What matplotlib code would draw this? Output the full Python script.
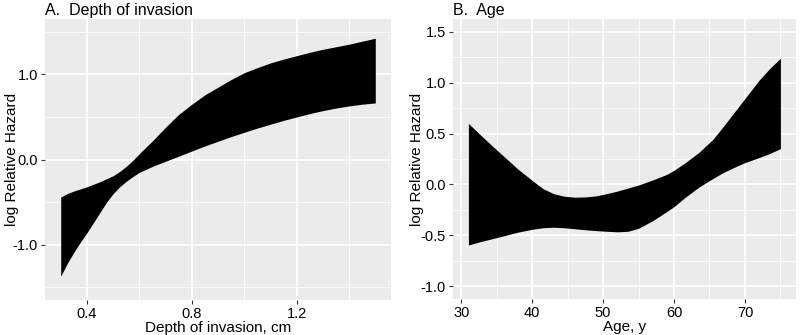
import numpy as np
import matplotlib.pyplot as plt
from matplotlib.ticker import MultipleLocator

plt.rcParams['font.family'] = ['Liberation Sans', 'DejaVu Sans']

# Panel A: depth of invasion (cm), confidence band of log relative hazard
depth = [0.3, 0.325, 0.35, 0.375, 0.4, 0.425, 0.45, 0.475, 0.5, 0.525, 0.55, 0.575,
         0.6, 0.65, 0.7, 0.75, 0.8, 0.85, 0.9, 0.95, 1.0, 1.05, 1.1, 1.15, 1.2, 1.25,
         1.3, 1.35, 1.4, 1.45, 1.5]
depth_upper = [-0.44, -0.40, -0.37, -0.345, -0.32, -0.29, -0.26, -0.225, -0.19, -0.14,
               -0.08, -0.01, 0.07, 0.22, 0.38, 0.53, 0.65, 0.76, 0.85, 0.94, 1.02, 1.08,
               1.135, 1.18, 1.22, 1.26, 1.295, 1.325, 1.355, 1.39, 1.425]
depth_lower = [-1.37, -1.22, -1.09, -0.97, -0.86, -0.74, -0.62, -0.5, -0.40, -0.32,
               -0.255, -0.2, -0.15, -0.08, -0.02, 0.04, 0.1, 0.16, 0.215, 0.27, 0.32,
               0.37, 0.415, 0.46, 0.5, 0.54, 0.575, 0.605, 0.63, 0.65, 0.665]

# Panel B: age (years)
age = [31, 32.5, 34.5, 36.5, 38, 40, 41.5, 43, 44.5, 46, 47.5, 49, 50.5, 52, 53.5, 55,
       57, 59, 60, 61.5, 63.5, 65.5, 67, 69, 70, 72, 73.5, 75]
age_upper = [0.6, 0.5, 0.37, 0.245, 0.15, 0.04, -0.04, -0.09, -0.115, -0.125,
             -0.122, -0.112, -0.09, -0.065, -0.035, -0.005, 0.045, 0.1, 0.14, 0.21, 0.315,
             0.445, 0.575, 0.755, 0.845, 1.025, 1.14, 1.24]
age_lower = [-0.595, -0.565, -0.53, -0.495, -0.468, -0.44, -0.425, -0.42, -0.425,
             -0.435, -0.445, -0.453, -0.46, -0.465, -0.46, -0.43, -0.355, -0.265,
             -0.217, -0.13, -0.026, 0.06, 0.12, 0.185, 0.215, 0.265, 0.305, 0.352]

fig = plt.figure(figsize=(8, 3.35), dpi=100)
ax1 = fig.add_axes([0.05625, 0.1045, 0.4325, 0.8385])
ax2 = fig.add_axes([0.566, 0.1075, 0.429, 0.8355])


def style(ax, xmajor, xminor, ymajor, yminor, fmt):
    ax.set_facecolor('#EBEBEB')
    for s in ax.spines.values():
        s.set_visible(False)
    ax.xaxis.set_major_locator(MultipleLocator(xmajor))
    ax.xaxis.set_minor_locator(MultipleLocator(xminor))
    ax.yaxis.set_major_locator(MultipleLocator(ymajor))
    ax.yaxis.set_minor_locator(MultipleLocator(yminor))
    ax.yaxis.set_major_formatter(fmt)
    ax.grid(which='major', color='white', linewidth=1.3)
    ax.grid(which='minor', color='white', linewidth=0.6)
    ax.set_axisbelow(True)
    ax.tick_params(which='major', length=3, width=0.8, color='#333333',
                   labelsize=10.5, labelcolor='black', pad=2)
    ax.tick_params(which='minor', length=0)


fmt = plt.FuncFormatter(lambda v, p: f"{v:.1f}")

ax1.fill_between(depth, depth_lower, depth_upper, color='black', linewidth=0)
style(ax1, 0.4, 0.2, 1.0, 0.5, fmt)
ax1.set_xlim(0.24, 1.56)
ax1.set_ylim(-1.65, 1.65)
ax1.set_xlabel("Depth of invasion, cm", fontsize=11, labelpad=0)
ax1.set_ylabel("log Relative Hazard", fontsize=11)
ax1.yaxis.set_label_coords(-0.075, 0.5)
ax1.set_title("A.  Depth of invasion", loc='left', fontsize=11.5, pad=3)

ax2.fill_between(age, age_lower, age_upper, color='black', linewidth=0)
style(ax2, 10, 5, 0.5, 0.25, fmt)
ax2.set_xlim(28.8, 77.2)
ax2.set_ylim(-1.125, 1.625)
ax2.set_xlabel("Age, y", fontsize=11, labelpad=0)
ax2.set_ylabel("log Relative Hazard", fontsize=11)
ax2.yaxis.set_label_coords(-0.085, 0.5)
ax2.set_title("B.  Age", loc='left', fontsize=11.5, pad=3)

fig.savefig("out.png", dpi=100)
